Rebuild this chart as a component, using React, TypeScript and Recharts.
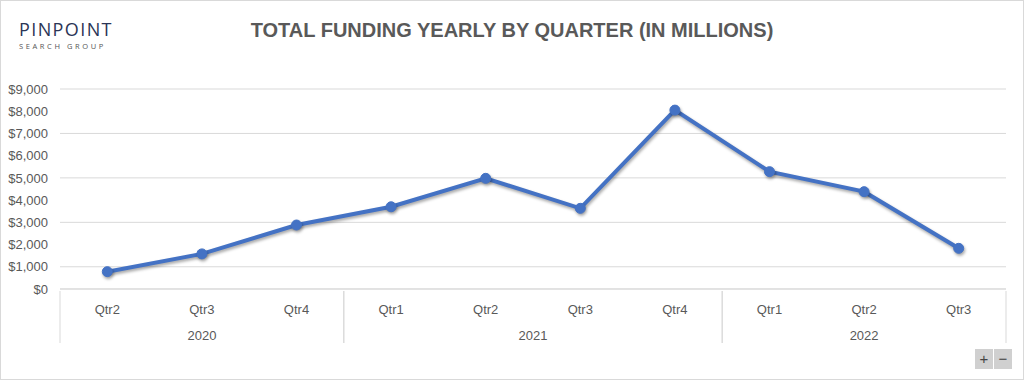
import React from 'react';
import { LineChart, Line, XAxis, YAxis, CartesianGrid } from 'recharts';

const years = ['2020', '2020', '2020', '2021', '2021', '2021', '2021', '2022', '2022', '2022'];
const quarters = ['Qtr2', 'Qtr3', 'Qtr4', 'Qtr1', 'Qtr2', 'Qtr3', 'Qtr4', 'Qtr1', 'Qtr2', 'Qtr3'];
const funding = [780, 1580, 2880, 3700, 4980, 3630, 8050, 5280, 4380, 1830];
const yTicks = [0, 1000, 2000, 3000, 4000, 5000, 6000, 7000, 8000, 9000];

const data = quarters.map((q, i) => ({ key: `${years[i]}-${q}`, quarter: q, year: years[i], funding: funding[i] }));

const CHART_W = 1024;
const CHART_H = 380;
const MARGIN = { top: 89, right: 18, bottom: 0, left: 0 };
const Y_AXIS_W = 60;
const X_AXIS_H = 91;
const PLOT_W = CHART_W - MARGIN.left - MARGIN.right - Y_AXIS_W;
const BAND = PLOT_W / data.length;
const FONT = '"Liberation Sans", Arial, sans-serif';
const TEXT_COLOR = '#595959';
const GRID = '#d9d9d9';

const fmt = (v: number) => '$' + v.toLocaleString('en-US');

const XTick = (props: any) => {
  const { x, y, index } = props;
  const d = data[index];
  if (!d) return null;
  const first = index === 0 || data[index - 1].year !== d.year;
  const last = index === data.length - 1 || data[index + 1].year !== d.year;
  const idxs = data.map((r, i) => (r.year === d.year ? i : -1)).filter((i) => i >= 0);
  const mid = (idxs[0] + idxs[idxs.length - 1]) / 2;
  const showYear = index === Math.floor(mid);
  const yearX = x + (mid - index) * BAND;
  return (
    <g>
      <text x={x} y={y + 23} textAnchor="middle" fill={TEXT_COLOR} fontSize={13} fontFamily={FONT}>
        {d.quarter}
      </text>
      {showYear && (
        <text x={yearX} y={y + 49} textAnchor="middle" fill={TEXT_COLOR} fontSize={13} fontFamily={FONT}>
          {d.year}
        </text>
      )}
      {first && <line x1={x - BAND / 2} x2={x - BAND / 2} y1={y} y2={y + 52} stroke={GRID} strokeWidth={1} />}
      {last && <line x1={x + BAND / 2} x2={x + BAND / 2} y1={y} y2={y + 52} stroke={GRID} strokeWidth={1} />}
    </g>
  );
};

export default function App() {
  return (
    <div style={{ position: 'absolute', left: 0, top: 0, width: CHART_W, height: CHART_H, background: '#fff' }}>
      <style>{`.recharts-line-curve, .recharts-line-dots { filter: drop-shadow(1px 2px 1.5px rgba(0,0,0,0.35)); }`}</style>
      <LineChart width={CHART_W} height={CHART_H} data={data} margin={MARGIN}>
        <CartesianGrid vertical={false} stroke={GRID} strokeWidth={1} />
        <XAxis
          dataKey="key"
          interval={0}
          height={X_AXIS_H}
          tickSize={0}
          tickLine={false}
          padding={{ left: BAND / 2, right: BAND / 2 }}
          axisLine={{ stroke: GRID }}
          tick={<XTick />}
        />
        <YAxis
          domain={[0, 9000]}
          ticks={yTicks}
          width={Y_AXIS_W}
          axisLine={false}
          tickLine={false}
          tickSize={0}
          tickMargin={12}
          tickFormatter={fmt}
          tick={{ fill: TEXT_COLOR, fontSize: 13, fontFamily: FONT }}
        />
        <Line
          type="linear"
          dataKey="funding"
          stroke="#4472C4"
          strokeWidth={4}
          dot={{ r: 5, fill: '#4472C4', stroke: '#4472C4', strokeWidth: 1 }}
          isAnimationActive={false}
        />
      </LineChart>
      <div
        style={{
          position: 'absolute', left: 0, top: 18, width: CHART_W, textAlign: 'center',
          fontFamily: FONT, fontWeight: 'bold', fontSize: 20, color: TEXT_COLOR, lineHeight: '24px',
        }}
      >
        TOTAL FUNDING YEARLY BY QUARTER (IN MILLIONS)
      </div>
      <div style={{ position: 'absolute', left: 19, top: 18, fontFamily: '"Open Sans", sans-serif', color: '#2b3556' }}>
        <div style={{ fontSize: 18, fontWeight: 500, letterSpacing: 1.4, lineHeight: '22px' }}>PINPOINT</div>
        <div style={{ fontSize: 7.5, letterSpacing: 2.6, color: '#555', lineHeight: '10px', marginTop: 1 }}>SEARCH GROUP</div>
      </div>
      <div style={{ position: 'absolute', left: 975, top: 349, display: 'flex', gap: 1 }}>
        {['+', '\u2212'].map((s) => (
          <div
            key={s}
            style={{
              width: 18, height: 20, background: '#d0d0d0', color: '#444', fontFamily: FONT,
              fontSize: 15, lineHeight: '20px', textAlign: 'center',
            }}
          >
            {s}
          </div>
        ))}
      </div>
      <div
        style={{
          position: 'absolute', left: 0, top: 0, width: CHART_W, height: CHART_H,
          border: `1px solid ${GRID}`, boxSizing: 'border-box', pointerEvents: 'none',
        }}
      />
    </div>
  );
}
